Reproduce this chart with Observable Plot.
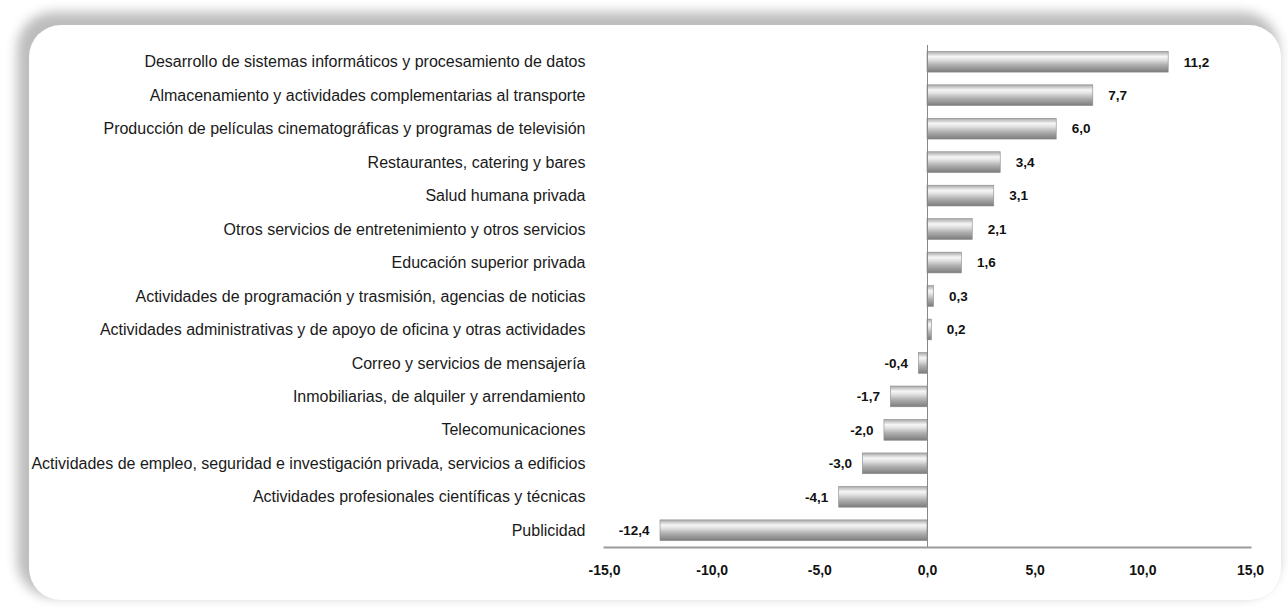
<!DOCTYPE html>
<html>
<head>
<meta charset="utf-8">
<script src="https://cdn.jsdelivr.net/npm/d3@7"></script>
<script src="https://cdn.jsdelivr.net/npm/@observablehq/plot@0.6"></script>
<style>
  html, body { margin: 0; padding: 0; background: #ffffff; }
  #wrap { position: relative; width: 1288px; height: 607px; overflow: hidden; }
  #frame { position: absolute; left: 29px; top: 25px; width: 1252px; height: 575px;
           background: #fff; border-radius: 32px;
           box-shadow: -7px -8px 12px 5px #bdbdbd; }
  #chart { position: absolute; left: 0; top: 0; }
</style>
</head>
<body>
<div id="wrap"><div id="frame"></div><div id="chart"></div></div>
<script>
const categories = [
  "Desarrollo de sistemas informáticos y procesamiento de datos",
  "Almacenamiento y actividades complementarias al transporte",
  "Producción de películas cinematográficas y programas de televisión",
  "Restaurantes, catering y bares",
  "Salud humana privada",
  "Otros servicios de entretenimiento y otros servicios",
  "Educación superior privada",
  "Actividades de programación y trasmisión, agencias de noticias",
  "Actividades administrativas y de apoyo de oficina y otras actividades",
  "Correo y servicios de mensajería",
  "Inmobiliarias, de alquiler y arrendamiento",
  "Telecomunicaciones",
  "Actividades de empleo, seguridad e investigación privada, servicios a edificios",
  "Actividades profesionales científicas y técnicas",
  "Publicidad"
];
const values = [11.2, 7.7, 6.0, 3.4, 3.1, 2.1, 1.6, 0.3, 0.2, -0.4, -1.7, -2.0, -3.0, -4.1, -12.4];
const xTicks = [-15, -10, -5, 0, 5, 10, 15];

const data = categories.map((c, i) => ({category: c, value: values[i]}));
const fmt = v => v.toFixed(1).replace(".", ",");

const plot = Plot.plot({
  width: 1288,
  height: 607,
  marginLeft: 604,
  marginRight: 38,
  marginTop: 45,
  marginBottom: 60,
  style: {background: "transparent", fontFamily: "Liberation Sans, Arial, sans-serif"},
  x: {domain: [-15, 15]},
  y: {domain: categories, paddingInner: 0.38, paddingOuter: 0.19, round: false},
  marks: [
    Plot.barX(data, {x: "value", y: "category", fill: "url(#barGrad)", stroke: "#8a8a8a", strokeWidth: 0.6}),
    Plot.ruleX([0], {stroke: "#888", strokeWidth: 1}),
    Plot.frame({anchor: "bottom", stroke: "#9a9a9a", strokeWidth: 2}),
    Plot.text(data.filter(d => d.value >= 0), {x: "value", y: "category", text: d => fmt(d.value),
      textAnchor: "start", dx: 15, fontWeight: "bold", fontSize: 13.5, fill: "#111"}),
    Plot.text(data.filter(d => d.value < 0), {x: "value", y: "category", text: d => fmt(d.value),
      textAnchor: "end", dx: -11, fontWeight: "bold", fontSize: 13.5, fill: "#111"}),
    Plot.axisY({tickSize: 0, tickPadding: 19, fontSize: 16, label: null, fill: "#1a1a1a"}),
    Plot.axisX({ticks: xTicks, tickFormat: fmt, tickSize: 0, tickPadding: 18, fontSize: 14,
      fontWeight: "bold", label: null, fill: "#111"})
  ]
});

const ns = "http://www.w3.org/2000/svg";
const defs = document.createElementNS(ns, "defs");
defs.innerHTML = `
<linearGradient id="barGrad" x1="0" y1="0" x2="0" y2="1">
  <stop offset="0%" stop-color="#a8a8a8"/>
  <stop offset="25%" stop-color="#f6f6f6"/>
  <stop offset="40%" stop-color="#e2e2e2"/>
  <stop offset="65%" stop-color="#b0b0b0"/>
  <stop offset="100%" stop-color="#7c7c7c"/>
</linearGradient>`;
plot.insertBefore(defs, plot.firstChild);
document.getElementById("chart").appendChild(plot);
</script>
</body>
</html>
